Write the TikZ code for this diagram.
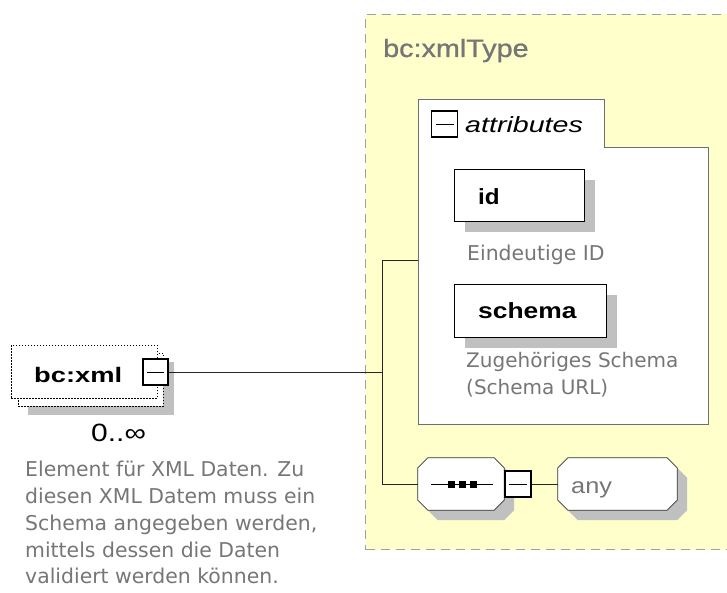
\documentclass[tikz,border=0pt]{standalone}
\usepackage{fontspec}
\usepackage{graphicx}
\setmainfont{Liberation Sans}
\newfontfamily\dvfont{DejaVu Sans}
\newfontface\semibfont[FakeBold=0.9]{Liberation Sans}
\usetikzlibrary{shadows}
\definecolor{ylw}{RGB}{255,255,204}
\definecolor{shd}{RGB}{192,192,192}
\definecolor{txtg}{RGB}{118,118,118}
\definecolor{bdr}{RGB}{160,160,160}
\definecolor{frame}{RGB}{110,110,110}
\newcommand{\sxx}[2]{\scalebox{#1}[1]{#2}}
\begin{document}
\begin{tikzpicture}[x=1pt,y=-1pt,
  typebox/.style={draw=bdr, fill=ylw, line width=1pt, dash pattern=on 9pt off 6pt, inner sep=0pt, anchor=north west},
  attrbox/.style={draw=black, fill=white, line width=0.8pt, inner sep=0pt, anchor=north west,
     drop shadow={shadow xshift=11pt, shadow yshift=-11pt, fill=shd, opacity=1}},
  octanode/.style={inner sep=0pt, minimum height=52pt},
  oct/.style={insert path={([xshift=10pt]#1.north west) -- ([xshift=-10pt]#1.north east)
     -- ([yshift=-10pt]#1.north east) -- ([yshift=10pt]#1.south east)
     -- ([xshift=-10pt]#1.south east) -- ([xshift=10pt]#1.south west)
     -- ([yshift=10pt]#1.south west) -- ([yshift=-10pt]#1.north west) -- cycle}},
  minusbox/.style={draw=black, fill=white, inner sep=0pt, minimum width=25pt, minimum height=26pt,
     path picture={\draw[line width=0.8pt] ([xshift=4pt]path picture bounding box.west) -- ([xshift=-4pt]path picture bounding box.east);}},
  dotbox/.style={draw=black, fill=white, line width=0.9pt, dash pattern=on 1.5pt off 1.5pt, inner sep=0pt, anchor=north west},
  lbl/.style={inner sep=0pt, anchor=base west},
  desc/.style={inner sep=0pt, anchor=north west, align=left, text=txtg, font=\dvfont\fontsize{20.4}{26.8}\selectfont},
  conn/.style={draw=black!85, line width=0.8pt}
]
\useasboundingbox (0,0) rectangle (727,593);

% complex type frame
\node[typebox, minimum width=390pt, minimum height=535pt] (type) at (365,14) {};
\node[lbl, text=txtg, font=\semibfont\fontsize{25}{28}\selectfont] (typelbl) at (383,57) {\sxx{1.15}{bc:xmlType}};

% attributes group
\draw[draw=frame, fill=white, line width=0.8pt] (418,99) -- (604,99) -- (604,147) -- (708,147) -- (708,424) -- (418,424) -- cycle;
\coordinate (attrL) at (418,260);
\node[minusbox, line width=1.1pt, minimum width=26pt] (attrminus) at (444.5,124) {};
\node[lbl, font=\itshape\fontsize{22}{26}\selectfont] (attrlbl) at (465,133) {\sxx{1.3}{attributes}};

\node[attrbox, minimum width=130pt, minimum height=52pt] (id) at (454,169) {};
\node[lbl, font=\bfseries\fontsize{22}{26}\selectfont] (idlbl) at (478,205) {\sxx{1.1}{id}};
\node[lbl, text=txtg, font=\dvfont\fontsize{20.4}{24}\selectfont] (iddoc) at (467,261) {Eindeutige ID};

\node[attrbox, minimum width=152pt, minimum height=53pt] (schema) at (454,284) {};
\node[lbl, font=\bfseries\fontsize{22}{26}\selectfont] (schemalbl) at (478,318) {\sxx{1.2}{schema}};
\node[desc, font=\dvfont\fontsize{20}{27.5}\selectfont] (schemadoc) at (466,352) {Zugehöriges Schema\\(Schema URL)};

% sequence and any
\node[octanode, minimum width=86pt] (seq) at (461,484) {};
\fill[shd, transform canvas={xshift=10pt, yshift=-10pt}, oct=seq];
\draw[draw=black!80, fill=white, line width=0.8pt, oct=seq];
\draw[line width=0.8pt] ([xshift=-30pt]seq.center) -- ([xshift=32pt]seq.center);
\foreach \dx in {-10,1,12}
  \fill[black] ([xshift=\dx pt]seq.center) ++(-3.5,-3.5) rectangle ++(7,7);
\node[minusbox, line width=2pt, minimum width=26pt] (seqminus) at (517.5,484) {};
\node[octanode, minimum width=119pt] (any) at (617.5,484) {};
\fill[shd, transform canvas={xshift=10pt, yshift=-10pt}, oct=any];
\draw[draw=black!80, fill=white, line width=0.8pt, oct=any];
\node[lbl, text=txtg, font=\fontsize{22}{26}\selectfont] (anylbl) at (571,493) {\sxx{1.15}{any}};

% element bc:xml
\fill[shd] (28,362) rectangle (174,415);
\node[dotbox, minimum width=145pt, minimum height=53pt] (xmlback) at (18,353) {};
\node[dotbox, minimum width=146pt, minimum height=53pt] (xml) at (11,345) {};
\node[lbl, font=\bfseries\fontsize{21}{25}\selectfont] (xmllbl) at (34,382) {\sxx{1.3}{bc:xml}};
\node[minusbox, line width=2pt] (xmlminus) at (155.5,372) {};
\node[lbl, font=\fontsize{25}{28}\selectfont] (card) at (91,441) {\sxx{1.2}{0..∞}};
\node[desc] (xmldoc) at (25,461) {Element für XML Daten. Zu\\diesen XML Datem muss ein\\Schema angegeben werden,\\mittels dessen die Daten\\validiert werden können.};

% connectors
\coordinate (j1) at (382,372);
\coordinate (jt) at (382,260);
\coordinate (jb) at (382,484);
\draw[conn] (xmlminus.east) -- (j1);
\draw[conn] (jt) -- (jb);
\draw[conn] (jt) -- (attrL);
\draw[conn] (jb) -- (seq.west);
\draw[conn] (seqminus.east) -- (any.west);
\end{tikzpicture}
\end{document}
